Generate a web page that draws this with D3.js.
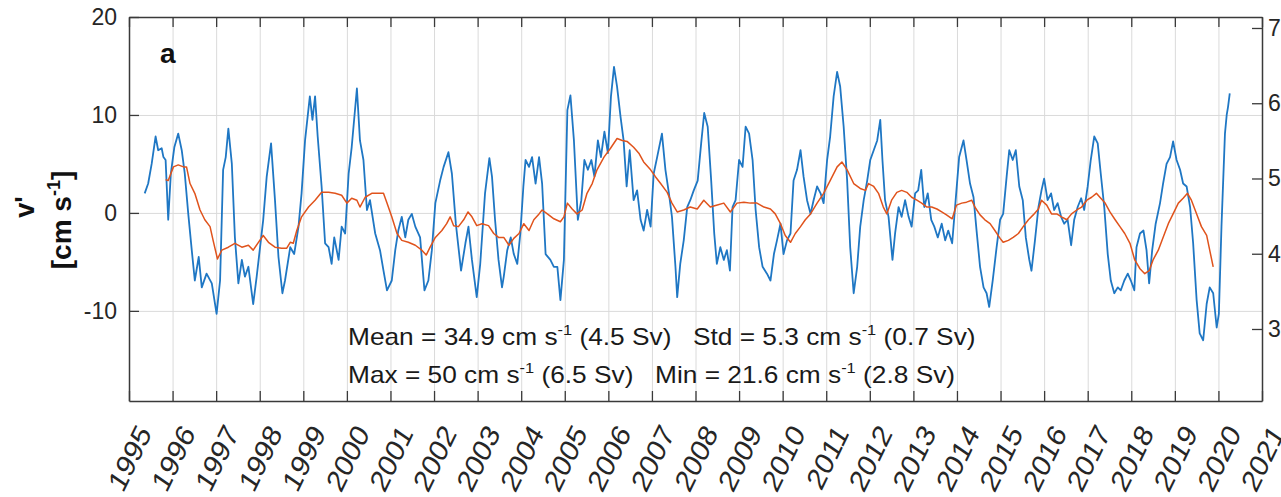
<!DOCTYPE html>
<html><head><meta charset="utf-8">
<script src="https://cdn.jsdelivr.net/npm/d3@7"></script>
<style>
html,body{margin:0;padding:0;background:#fff;}
svg{display:block;font-family:"Liberation Sans",Arial,Helvetica,sans-serif;}
</style></head>
<body>
<svg id="chart" width="1281" height="497"></svg>
<script>
// ---- data ----
const years = d3.range(1995, 2022);                 // x tick labels
const leftTicks = [-10, 0, 10, 20];                  // v' [cm s-1]
const rightTicks = [3, 4, 5, 6, 7];                  // transport [Sv]

const tBlue = [1995.36,1995.44,1995.52,1995.61,1995.67,1995.75,1995.79,1995.84,1995.90,1995.96,1996.04,1996.13,1996.21,1996.28,1996.36,1996.44,1996.51,1996.60,1996.67,1996.78,1996.90,1997.01,1997.09,1997.16,1997.22,1997.28,1997.36,1997.43,1997.51,1997.59,1997.66,1997.74,1997.85,1997.93,1998.08,1998.16,1998.26,1998.35,1998.43,1998.52,1998.58,1998.70,1998.79,1998.89,1998.96,1999.04,1999.15,1999.21,1999.27,1999.33,1999.42,1999.50,1999.58,1999.65,1999.71,1999.81,1999.88,1999.96,2000.04,2000.11,2000.23,2000.30,2000.38,2000.46,2000.53,2000.65,2000.76,2000.84,2000.92,2001.03,2001.11,2001.18,2001.26,2001.34,2001.41,2001.49,2001.57,2001.68,2001.78,2001.87,2001.95,2002.03,2002.14,2002.22,2002.33,2002.41,2002.50,2002.62,2002.72,2002.79,2002.87,2002.98,2003.06,2003.17,2003.27,2003.33,2003.40,2003.48,2003.56,2003.60,2003.68,2003.76,2003.83,2003.91,2003.98,2004.05,2004.10,2004.18,2004.25,2004.33,2004.41,2004.48,2004.56,2004.67,2004.75,2004.83,2004.90,2004.98,2005.06,2005.13,2005.21,2005.30,2005.38,2005.45,2005.53,2005.61,2005.68,2005.76,2005.83,2005.91,2005.99,2006.06,2006.13,2006.20,2006.28,2006.35,2006.42,2006.49,2006.58,2006.66,2006.74,2006.81,2006.89,2006.97,2007.04,2007.12,2007.23,2007.31,2007.39,2007.46,2007.54,2007.58,2007.65,2007.73,2007.81,2007.88,2007.96,2008.05,2008.13,2008.20,2008.28,2008.36,2008.43,2008.49,2008.57,2008.65,2008.72,2008.79,2008.85,2008.92,2009.00,2009.08,2009.15,2009.23,2009.31,2009.38,2009.46,2009.54,2009.64,2009.72,2009.80,2009.87,2009.95,2010.02,2010.10,2010.18,2010.25,2010.33,2010.41,2010.48,2010.56,2010.64,2010.71,2010.79,2010.87,2010.94,2011.02,2011.09,2011.17,2011.25,2011.32,2011.40,2011.48,2011.55,2011.63,2011.71,2011.78,2011.86,2011.94,2012.01,2012.09,2012.17,2012.24,2012.29,2012.35,2012.43,2012.52,2012.58,2012.66,2012.73,2012.81,2012.89,2012.96,2013.04,2013.11,2013.18,2013.25,2013.33,2013.41,2013.48,2013.56,2013.65,2013.73,2013.80,2013.89,2013.97,2014.05,2014.15,2014.22,2014.30,2014.38,2014.45,2014.53,2014.61,2014.68,2014.74,2014.82,2014.91,2014.99,2015.06,2015.14,2015.20,2015.28,2015.35,2015.43,2015.51,2015.58,2015.66,2015.71,2015.79,2015.87,2015.94,2016.00,2016.08,2016.16,2016.23,2016.31,2016.39,2016.46,2016.54,2016.62,2016.69,2016.77,2016.85,2016.92,2017.00,2017.07,2017.15,2017.23,2017.30,2017.38,2017.46,2017.53,2017.61,2017.69,2017.76,2017.84,2017.92,2017.99,2018.07,2018.12,2018.20,2018.28,2018.35,2018.41,2018.48,2018.56,2018.66,2018.73,2018.81,2018.89,2018.96,2019.04,2019.12,2019.19,2019.27,2019.35,2019.42,2019.50,2019.57,2019.65,2019.73,2019.80,2019.88,2019.96,2020.01,2020.07,2020.15,2020.19,2020.22,2020.26];
const vBlue = [2.0,3.0,5.0,7.8,6.4,6.6,5.7,5.4,-0.7,4.0,6.7,8.1,6.4,4.0,-0.1,-3.8,-6.9,-4.5,-7.6,-6.2,-7.2,-10.3,-6.9,4.4,5.7,8.6,5.0,-2.5,-7.2,-4.8,-6.5,-5.5,-9.3,-6.5,-0.7,3.7,7.1,1.3,-4.5,-8.2,-6.9,-3.5,-4.2,-1.4,2.0,7.4,11.9,9.5,11.9,7.8,2.7,-3.1,-3.5,-5.2,-2.5,-4.8,-1.4,-2.1,4.0,6.7,12.7,7.4,5.4,0.3,1.3,-2.1,-3.8,-5.9,-7.9,-6.9,-3.8,-1.8,-0.4,-2.5,-0.7,-0.1,-1.4,-2.5,-7.9,-6.9,-3.8,1.0,3.3,4.7,6.2,4.0,-1.1,-5.9,-3.1,-1.4,-4.8,-8.6,-5.2,2.0,5.6,3.7,-0.7,-4.8,-7.6,-6.5,-3.8,-2.5,-4.2,-5.2,-2.1,2.7,5.4,4.7,5.7,3.0,5.7,3.0,-4.2,-4.8,-5.5,-5.5,-8.9,-4.8,10.5,12.0,7.4,-0.7,1.3,5.4,4.4,5.4,3.7,7.4,5.7,8.3,6.1,11.9,14.9,12.9,9.8,7.4,2.7,6.4,1.3,2.3,-0.7,-1.8,0.3,-1.4,4.0,5.7,8.1,4.4,2.0,-0.4,-5.5,-8.6,-5.2,-2.8,0.6,1.3,2.3,3.3,7.1,10.2,8.8,3.3,-2.1,-5.2,-3.5,-4.8,-3.8,-5.9,0.6,1.3,5.4,4.7,8.8,8.1,5.4,0.3,-3.5,-5.5,-6.2,-6.9,-4.2,-2.8,-1.1,-4.2,-2.8,-2.1,3.3,4.4,6.4,3.7,1.3,-0.1,1.3,2.7,2.0,1.0,5.4,7.8,11.9,14.4,12.9,8.8,3.3,-3.5,-8.2,-5.5,-1.4,1.3,3.3,5.4,6.4,7.4,9.5,5.4,1.3,-0.4,-4.8,-2.1,0.6,-0.4,1.3,-0.4,-1.4,2.0,2.3,4.4,0.6,2.0,-0.7,-1.4,-2.5,-1.1,-2.8,-1.8,-3.1,1.3,5.7,7.4,5.4,3.0,1.6,-1.8,-5.5,-7.6,-8.2,-9.6,-6.9,-3.5,-0.7,-0.1,3.7,6.4,5.4,6.4,2.7,1.3,-2.5,-4.8,-5.9,-2.8,0.6,2.3,3.5,1.3,2.0,0.3,1.0,-0.4,-1.1,-0.7,-3.3,-0.7,0.6,1.5,0.3,2.7,5.4,7.8,7.1,4.0,0.6,-4.2,-6.9,-8.2,-7.6,-7.9,-6.9,-6.2,-6.9,-7.9,-3.5,-2.1,-1.8,-3.8,-7.2,-3.8,-1.1,1.0,3.0,5.0,5.7,7.3,5.4,4.4,3.0,2.7,0.6,-3.1,-8.9,-12.3,-13.0,-9.3,-7.6,-8.2,-11.7,-10.3,-1.4,8.1,10.0,10.8,12.2];

const tRed = [1995.84,1995.90,1996.02,1996.13,1996.25,1996.32,1996.40,1996.51,1996.63,1996.74,1996.86,1996.93,1997.03,1997.13,1997.28,1997.43,1997.59,1997.74,1997.85,1997.97,1998.08,1998.20,1998.35,1998.50,1998.62,1998.70,1998.77,1998.85,1998.96,1999.12,1999.27,1999.42,1999.58,1999.73,1999.88,2000.00,2000.11,2000.23,2000.30,2000.42,2000.57,2000.72,2000.84,2000.92,2001.03,2001.15,2001.26,2001.41,2001.57,2001.72,2001.82,2001.91,2002.03,2002.18,2002.29,2002.37,2002.45,2002.56,2002.68,2002.78,2002.87,2002.98,2003.10,2003.25,2003.37,2003.48,2003.60,2003.72,2003.83,2003.95,2004.06,2004.18,2004.29,2004.41,2004.48,2004.60,2004.75,2004.90,2004.98,2005.06,2005.17,2005.28,2005.40,2005.51,2005.63,2005.74,2005.90,2006.05,2006.20,2006.32,2006.43,2006.58,2006.70,2006.81,2006.97,2007.08,2007.20,2007.35,2007.46,2007.58,2007.73,2007.88,2008.04,2008.19,2008.34,2008.50,2008.65,2008.80,2008.95,2009.11,2009.26,2009.41,2009.57,2009.72,2009.83,2009.95,2010.06,2010.18,2010.29,2010.41,2010.52,2010.64,2010.79,2010.94,2011.09,2011.25,2011.36,2011.48,2011.63,2011.78,2011.90,2011.97,2012.09,2012.20,2012.31,2012.39,2012.50,2012.62,2012.73,2012.85,2012.96,2013.08,2013.19,2013.31,2013.42,2013.54,2013.65,2013.76,2013.89,2013.99,2014.11,2014.22,2014.34,2014.41,2014.53,2014.64,2014.76,2014.87,2014.99,2015.06,2015.18,2015.29,2015.41,2015.52,2015.64,2015.75,2015.87,2015.94,2016.06,2016.17,2016.29,2016.40,2016.52,2016.63,2016.75,2016.86,2016.98,2017.09,2017.20,2017.28,2017.40,2017.51,2017.63,2017.74,2017.85,2017.97,2018.08,2018.20,2018.31,2018.41,2018.50,2018.62,2018.73,2018.85,2018.96,2019.08,2019.19,2019.29,2019.38,2019.50,2019.61,2019.73,2019.80,2019.88];
const vRed = [3.4,3.3,4.7,4.9,4.7,4.7,3.0,2.0,0.3,-0.7,-1.4,-2.8,-4.7,-3.8,-3.5,-3.1,-3.5,-3.3,-3.8,-3.0,-2.3,-3.0,-3.5,-3.6,-3.6,-3.0,-3.1,-1.8,-0.4,0.6,1.3,2.1,2.1,2.0,1.8,1.0,1.5,1.3,0.6,1.6,2.0,2.0,2.0,1.0,-0.4,-2.1,-2.8,-3.0,-3.3,-3.8,-4.3,-3.5,-2.5,-1.8,-1.1,-0.4,-1.3,-1.4,-0.7,0.1,-0.4,-1.3,-1.1,-1.3,-2.1,-2.5,-2.5,-3.3,-2.6,-2.1,-1.1,-1.8,-0.7,-0.1,0.3,-0.1,-0.6,-0.9,-0.4,1.0,0.4,-0.1,0.3,2.0,3.0,4.4,5.7,6.6,7.6,7.4,7.3,6.7,6.1,5.2,4.4,3.7,3.0,2.1,1.0,0.1,0.3,0.6,0.4,1.3,0.6,0.8,1.0,0.1,1.0,1.1,1.0,1.0,0.6,0.4,-0.1,-1.1,-2.3,-3.0,-2.1,-1.4,-0.7,-0.1,1.0,2.0,3.3,4.7,5.2,4.4,3.0,2.5,2.3,3.0,2.7,2.0,0.6,-0.1,1.3,2.1,2.3,2.1,1.6,1.3,1.0,0.6,0.6,0.4,0.1,-0.2,-0.6,0.8,1.0,1.1,1.3,0.6,-0.2,-0.7,-1.1,-1.8,-2.6,-3.0,-2.8,-2.5,-2.1,-1.4,-0.7,-0.2,0.4,1.3,0.8,-0.1,-0.1,-0.4,-0.7,-0.1,0.3,0.6,1.3,1.6,2.0,1.6,1.0,0.1,-0.7,-1.4,-2.1,-3.1,-4.8,-5.7,-6.2,-5.9,-4.8,-3.8,-2.5,-1.1,-0.1,1.0,1.5,2.0,1.3,-0.1,-1.4,-2.3,-3.8,-5.5];

// ---- layout ----
const L = 129, R = 1262, T = 17, B = 401;
const ink = "#262626";
const font = "'Liberation Sans', Arial, Helvetica, sans-serif";

const svg = d3.select("#chart");
const x = d3.scaleLinear().domain([1995, 2021]).range([L, R]);
const y = d3.scaleLinear().domain([-19.2, 20]).range([B, T]);
const yR = d3.scaleLinear().domain([2.043, 7.146]).range([B, T]);

// grid
const grid = svg.append("g").attr("stroke", "#dadada").attr("stroke-width", 1);
grid.selectAll("line.gx").data(years.filter(d => d > 1995 && d < 2021)).join("line")
  .attr("x1", d => x(d) + 0.5).attr("x2", d => x(d) + 0.5).attr("y1", T).attr("y2", B);
grid.selectAll("line.gy").data(leftTicks.filter(d => d < 20)).join("line")
  .attr("y1", d => y(d) + 0.5).attr("y2", d => y(d) + 0.5).attr("x1", L).attr("x2", R);

// data lines
const lineB = d3.line().x((d, i) => x(tBlue[i])).y(d => y(d));
const lineR = d3.line().x((d, i) => x(tRed[i])).y(d => y(d));
svg.append("path").datum(vBlue).attr("d", lineB).attr("fill", "none")
  .attr("stroke", "#1f77c4").attr("stroke-width", 1.8).attr("stroke-linejoin", "round");
svg.append("path").datum(vRed).attr("d", lineR).attr("fill", "none")
  .attr("stroke", "#e0531c").attr("stroke-width", 1.5).attr("stroke-linejoin", "round");

// axes
const fmt = d => String(d);
function styleAxis(g) {
  g.selectAll("path.domain").attr("stroke", "#3a3a3a").attr("stroke-width", 1.5);
  g.selectAll(".tick line").attr("stroke", "#3a3a3a").attr("stroke-width", 1.3);
  g.selectAll("text").attr("fill", ink).style("font-family", font).style("font-size", "23px");
}
const gL = svg.append("g").attr("transform", `translate(${L},0)`)
  .call(d3.axisLeft(y).tickValues(leftTicks).tickSizeInner(-10).tickSizeOuter(0).tickPadding(12).tickFormat(fmt));
styleAxis(gL);
const gT = svg.append("g").attr("transform", `translate(0,${T})`)
  .call(d3.axisTop(x).tickValues(years).tickSizeInner(-10).tickSizeOuter(0).tickFormat(""));
styleAxis(gT);
const gR = svg.append("g").attr("transform", `translate(${R},0)`)
  .call(d3.axisRight(yR).tickValues(rightTicks).tickSizeInner(-10).tickSizeOuter(0).tickPadding(6).tickFormat(fmt));
styleAxis(gR);
const gB = svg.append("g").attr("transform", `translate(0,${B})`)
  .call(d3.axisBottom(x).tickValues(years).tickSizeInner(-10).tickSizeOuter(0).tickFormat(fmt));
styleAxis(gB);
gB.selectAll(".tick text")
  .attr("x", null).attr("y", null).attr("dy", null)
  .attr("text-anchor", "end").attr("dominant-baseline", "central")
  .attr("transform", "translate(15,27) scale(1.15,1.36) rotate(-60)")
  .style("font-size", "23px");

// panel letter
svg.append("text").attr("x", 160).attr("y", 63).text("a")
  .attr("fill", "#111").style("font-family", font).style("font-weight", "bold").style("font-size", "28px");

// y label
const yl = svg.append("g").attr("fill", "#111").style("font-family", font).style("font-weight", "bold");
yl.append("text").attr("transform", "translate(34,207) rotate(-90)").attr("text-anchor", "middle")
  .style("font-size", "27px").text("v'");
const yl2 = yl.append("text").attr("transform", "translate(71,220) rotate(-90)").attr("text-anchor", "middle")
  .style("font-size", "28px");
yl2.append("tspan").text("[cm s");
yl2.append("tspan").attr("dy", -11).style("font-size", "18px").text("-1");
yl2.append("tspan").attr("dy", 11).text("]");

// statistics text
function stat(xp, yp, parts) {
  const t = svg.append("text").attr("transform", `translate(${xp},${yp}) scale(1.095,1)`).attr("fill", "#1a1a1a")
    .style("font-family", font).style("font-size", "24px");
  parts.forEach(p => {
    if (p.sup) t.append("tspan").attr("dy", -10).style("font-size", "15px").text(p.sup);
    else t.append("tspan").attr("dy", p.after ? 10 : null).text(p.s);
  });
}
stat(348, 345, [{s: "Mean = 34.9 cm s"}, {sup: "-1"}, {s: " (4.5 Sv)", after: true}]);
stat(693, 345, [{s: "Std = 5.3 cm s"}, {sup: "-1"}, {s: " (0.7 Sv)", after: true}]);
stat(348, 383, [{s: "Max = 50 cm s"}, {sup: "-1"}, {s: " (6.5 Sv)", after: true}]);
stat(655, 383, [{s: "Min = 21.6 cm s"}, {sup: "-1"}, {s: " (2.8 Sv)", after: true}]);
</script>
</body></html>
